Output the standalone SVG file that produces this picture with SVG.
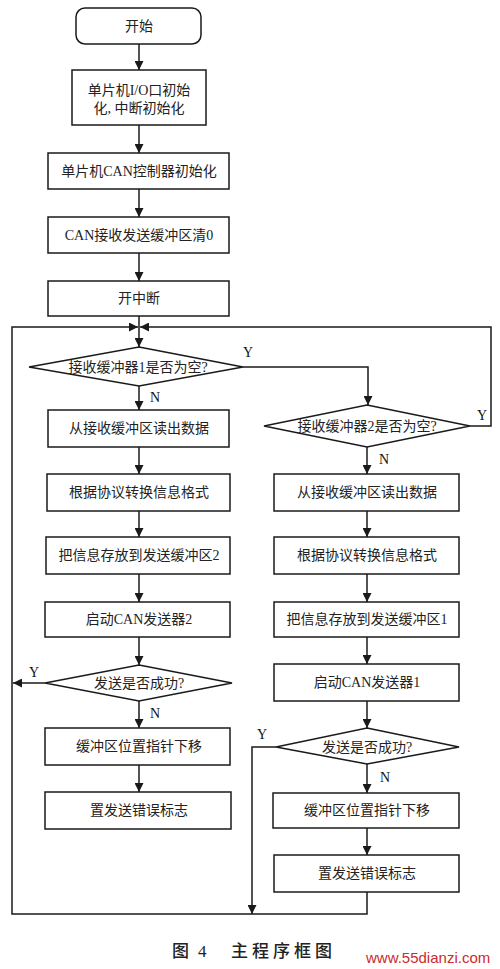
<svg xmlns="http://www.w3.org/2000/svg" width="500" height="969" viewBox="0 0 500 969">
<style>
.box{fill:#fff;stroke:#1a1a1a;stroke-width:1.5}
.t{font-family:"Liberation Serif","Noto Sans CJK SC",serif;font-size:14px;fill:#222;text-anchor:middle}
.lbl{font-family:"Liberation Serif","Noto Sans CJK SC",serif;font-size:14px;fill:#111;text-anchor:middle}
.c{fill:none;stroke:#1a1a1a;stroke-width:1.5}
.cap{font-family:"Liberation Serif","Noto Sans CJK SC",serif;font-size:17px;font-weight:500;fill:#222}
.wm{font-family:"Liberation Sans",Arial,sans-serif;font-size:15px;fill:#cc2b2b}
</style>
<defs>
<marker id="ah" viewBox="0 0 10 10" refX="10" refY="5" markerWidth="9" markerHeight="9" markerUnits="userSpaceOnUse" orient="auto">
<path d="M0,0 L10,5 L0,10 z" fill="#1a1a1a"/>
</marker>
</defs>
<rect width="500" height="969" fill="#fff"/>

<g id="start"><rect class="box" x="76" y="8" width="125" height="36" rx="9"/><text class="t" x="139" y="31">开始</text></g>
<g id="init_io"><rect class="box" x="72" y="70" width="134" height="55"/><text class="t" x="139" y="95">单片机I/O口初始</text><text class="t" x="139" y="113">化, 中断初始化</text></g>
<g id="init_can"><rect class="box" x="48" y="153" width="181" height="36"/><text class="t" x="139" y="176">单片机CAN控制器初始化</text></g>
<g id="clear_buf"><rect class="box" x="48" y="217" width="181" height="36"/><text class="t" x="139" y="240">CAN接收发送缓冲区清0</text></g>
<g id="enable_int"><rect class="box" x="48" y="281" width="181" height="35"/><text class="t" x="139" y="303">开中断</text></g>

<g id="d1"><polygon class="box" points="139,347 243,367 139,386 29,367"/><text class="t" x="138" y="372">接收缓冲器1是否为空?</text></g>
<g id="a1"><rect class="box" x="48" y="410" width="181" height="37"/><text class="t" x="139" y="433">从接收缓冲区读出数据</text></g>
<g id="a2"><rect class="box" x="47" y="474" width="183" height="37"/><text class="t" x="139" y="497">根据协议转换信息格式</text></g>
<g id="a3"><rect class="box" x="46" y="537" width="184" height="37"/><text class="t" x="139" y="560">把信息存放到发送缓冲区2</text></g>
<g id="a4"><rect class="box" x="45" y="602" width="185" height="35"/><text class="t" x="139" y="624">启动CAN发送器2</text></g>
<g id="d3"><polygon class="box" points="139,665 232,683 139,701 45,683"/><text class="t" x="139" y="688">发送是否成功?</text></g>
<g id="a5"><rect class="box" x="45" y="728" width="185" height="37"/><text class="t" x="139" y="751">缓冲区位置指针下移</text></g>
<g id="a6"><rect class="box" x="45" y="792" width="186" height="37"/><text class="t" x="139" y="815">置发送错误标志</text></g>

<g id="d2"><polygon class="box" points="367,405 470,426 367,447 264,426"/><text class="t" x="367" y="431">接收缓冲器2是否为空?</text></g>
<g id="b1"><rect class="box" x="274" y="474" width="185" height="37"/><text class="t" x="367" y="497">从接收缓冲区读出数据</text></g>
<g id="b2"><rect class="box" x="274" y="537" width="185" height="37"/><text class="t" x="367" y="560">根据协议转换信息格式</text></g>
<g id="b3"><rect class="box" x="274" y="602" width="185" height="35"/><text class="t" x="367" y="624">把信息存放到发送缓冲区1</text></g>
<g id="b4"><rect class="box" x="274" y="664" width="185" height="37"/><text class="t" x="367" y="687">启动CAN发送器1</text></g>
<g id="d4"><polygon class="box" points="367,728 459,747 367,764 276,747"/><text class="t" x="367" y="752">发送是否成功?</text></g>
<g id="b5"><rect class="box" x="273" y="793" width="186" height="35"/><text class="t" x="367" y="815">缓冲区位置指针下移</text></g>
<g id="b6"><rect class="box" x="274" y="855" width="185" height="37"/><text class="t" x="367" y="878">置发送错误标志</text></g>

<g id="connectors">
<line class="c" x1="139" y1="44" x2="139" y2="70" marker-end="url(#ah)"/>
<line class="c" x1="139" y1="125" x2="139" y2="153" marker-end="url(#ah)"/>
<line class="c" x1="139" y1="189" x2="139" y2="217" marker-end="url(#ah)"/>
<line class="c" x1="139" y1="253" x2="139" y2="281" marker-end="url(#ah)"/>
<line class="c" x1="139" y1="316" x2="139" y2="347" marker-end="url(#ah)"/>
<line class="c" x1="139" y1="386" x2="139" y2="410" marker-end="url(#ah)"/>
<line class="c" x1="139" y1="447" x2="139" y2="474" marker-end="url(#ah)"/>
<line class="c" x1="139" y1="511" x2="139" y2="537" marker-end="url(#ah)"/>
<line class="c" x1="139" y1="574" x2="139" y2="602" marker-end="url(#ah)"/>
<line class="c" x1="139" y1="637" x2="139" y2="665" marker-end="url(#ah)"/>
<line class="c" x1="139" y1="701" x2="139" y2="728" marker-end="url(#ah)"/>
<line class="c" x1="139" y1="765" x2="139" y2="792" marker-end="url(#ah)"/>
<line class="c" x1="45" y1="683" x2="13" y2="683" marker-end="url(#ah)"/>
<polyline class="c" points="243,367 368,367 368,405" marker-end="url(#ah)"/>
<polyline class="c" points="470,426 491,426 491,327 140,327" marker-end="url(#ah)"/>
<polyline class="c" points="367,892 367,914 12,914 12,327 138,327" marker-end="url(#ah)"/>
<line class="c" x1="367" y1="447" x2="367" y2="474" marker-end="url(#ah)"/>
<line class="c" x1="367" y1="511" x2="367" y2="537" marker-end="url(#ah)"/>
<line class="c" x1="367" y1="574" x2="367" y2="602" marker-end="url(#ah)"/>
<line class="c" x1="367" y1="637" x2="367" y2="664" marker-end="url(#ah)"/>
<line class="c" x1="367" y1="701" x2="367" y2="728" marker-end="url(#ah)"/>
<line class="c" x1="367" y1="764" x2="367" y2="793" marker-end="url(#ah)"/>
<line class="c" x1="367" y1="828" x2="367" y2="855" marker-end="url(#ah)"/>
<polyline class="c" points="276,747 252,747 252,914" marker-end="url(#ah)"/>
<text class="lbl" x="248" y="357">Y</text>
<text class="lbl" x="482" y="420">Y</text>
<text class="lbl" x="155" y="402">N</text>
<text class="lbl" x="384" y="464">N</text>
<text class="lbl" x="34" y="677">Y</text>
<text class="lbl" x="155" y="718">N</text>
<text class="lbl" x="262" y="739">Y</text>
<text class="lbl" x="385" y="782">N</text>
</g>

<text class="cap" x="172" y="957">图<tspan x="198">4</tspan></text>
<text class="cap" x="231" y="957" letter-spacing="4">主程序框图</text>
<text class="wm" x="366" y="963">www.55dianzi.com</text>
</svg>
